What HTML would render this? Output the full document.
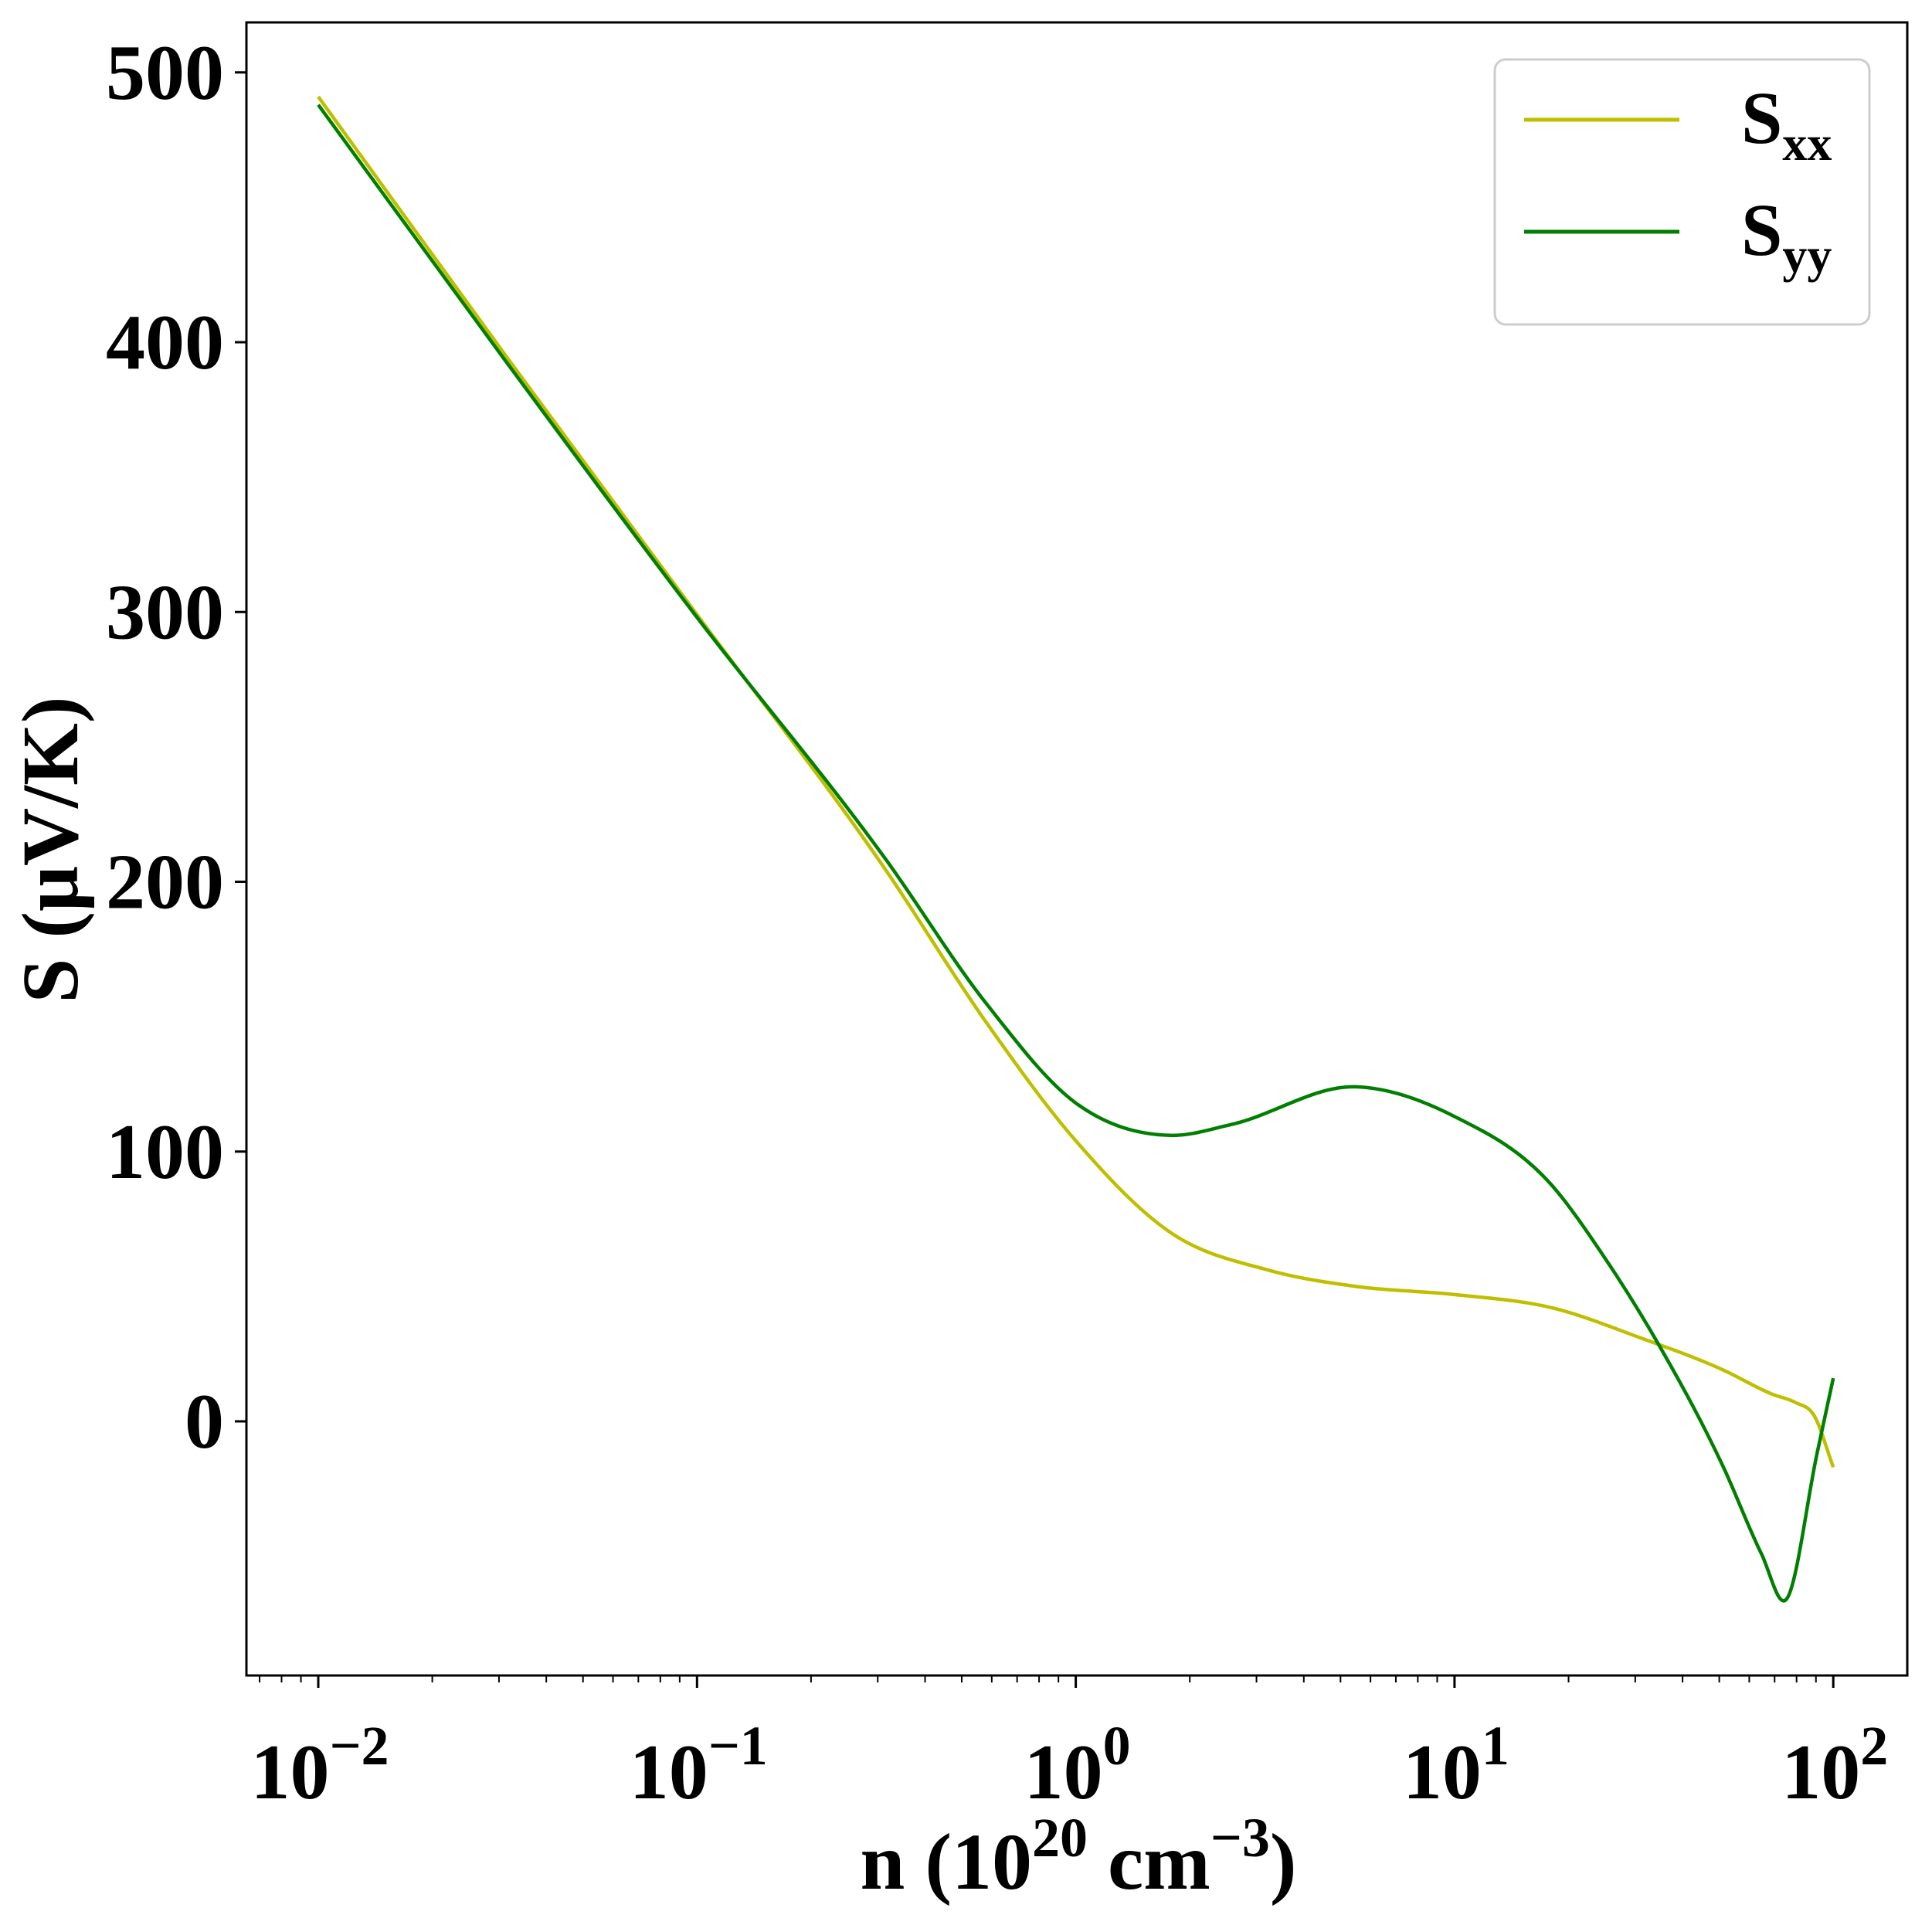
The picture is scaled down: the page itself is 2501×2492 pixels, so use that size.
<!DOCTYPE html>
<html><head><meta charset="utf-8"><style>
body{margin:0;background:#fff;}
svg{display:block;font-family:"Liberation Serif",serif;font-weight:bold;}
</style></head><body>
<svg id="chart" width="2501" height="2492" viewBox="0 0 2501 2492" xmlns="http://www.w3.org/2000/svg">
<rect x="0" y="0" width="2501" height="2492" fill="#fff"/>
<g id="marks"></g>
<g id="axes"></g>
<rect x="319" y="29" width="2150" height="2140" fill="none" stroke="#000" stroke-width="3"/>
<g>
<rect x="1935" y="77" width="485" height="343" rx="14" fill="#fff" stroke="#ccc" stroke-width="3"/>
<line x1="1973" y1="155" x2="2174" y2="155" stroke="#bfbf00" stroke-width="5"/>
<text x="2254" y="185" font-size="96">S<tspan font-size="64" dy="22">xx</tspan></text>
<line x1="1973" y1="300" x2="2174" y2="300" stroke="#007f00" stroke-width="5"/>
<text x="2254" y="330" font-size="96">S<tspan font-size="64" dy="22">yy</tspan></text>
</g>
<text transform="translate(100,1100) rotate(-90)" text-anchor="middle" font-size="104">S (μV/K)</text>
<text x="1396" y="2445" text-anchor="middle" font-size="104">n (10<tspan font-size="72" dy="-42">20</tspan><tspan dy="42"> cm</tspan><tspan font-size="72" dy="-42">−3</tspan><tspan dy="42">)</tspan></text>
</svg>
<script>
const sxxLogs = [-2, -1.5, -1, -0.5, -0.237, 0, 0.25, 0.51, 0.74, 1.0, 1.26, 1.49, 1.71, 1.84, 1.9, 1.95, 2.0];
const sxxValues = [491, 394, 299, 204, 148, 104, 70, 56, 50, 47, 42, 31, 19, 10, 7, 2, -17];
const syyLogs = [-2, -1.5, -1, -0.5, -0.237, 0, 0.25, 0.41, 0.74, 1.0, 1.26, 1.39, 1.545, 1.71, 1.81, 1.876, 1.957, 2.0];
const syyValues = [488, 392, 298, 208, 155, 118, 106, 110, 124, 113, 87, 62, 27, -17, -49, -66, -12, 16];
const yTicks = [0, 100, 200, 300, 400, 500];
const xTickExps = [-2, -1, 0, 1, 2];

const X0 = 412, DEC = 490.3, Y0 = 1840, PER = 3.4925;
function xs(l){ return X0 + (l + 2) * DEC; }
function ys(v){ return Y0 - v * PER; }
const NS = "http://www.w3.org/2000/svg";
function mk(tag, attrs, parent){ const e = document.createElementNS(NS, tag); for (const k in attrs) e.setAttribute(k, attrs[k]); parent.appendChild(e); return e; }

function smoothPath(lx, vy){
  const n = lx.length;
  const p = lx.map((l,i)=>[xs(l), ys(vy[i])]);
  const m = [];
  for (let i = 0; i < n; i++){
    if (i === 0) m.push((p[1][1]-p[0][1])/(p[1][0]-p[0][0]));
    else if (i === n-1) m.push((p[n-1][1]-p[n-2][1])/(p[n-1][0]-p[n-2][0]));
    else {
      const s0 = (p[i][1]-p[i-1][1])/(p[i][0]-p[i-1][0]);
      const s1 = (p[i+1][1]-p[i][1])/(p[i+1][0]-p[i][0]);
      const h0 = p[i][0]-p[i-1][0], h1 = p[i+1][0]-p[i][0];
      m.push((s0*h1 + s1*h0)/(h0+h1));
    }
  }
  let d = "M" + p[0][0] + "," + p[0][1];
  for (let i = 0; i < n - 1; i++){
    const h = (p[i+1][0]-p[i][0])/3;
    d += " C" + (p[i][0]+h) + "," + (p[i][1]+m[i]*h) + " " + (p[i+1][0]-h) + "," + (p[i+1][1]-m[i+1]*h) + " " + p[i+1][0] + "," + p[i+1][1];
  }
  return d;
}
const marks = document.getElementById("marks");
const axes = document.getElementById("axes");
const l1 = mk("path", {d: smoothPath(sxxLogs, sxxValues), fill: "none", stroke: "#bfbf00", "stroke-width": 4.5}, marks);


const l2 = mk("path", {d: smoothPath(syyLogs, syyValues), fill: "none", stroke: "#007f00", "stroke-width": 4.5}, marks);



yTicks.forEach(v => {
  const t = mk("line", {x1: 304, x2: 319, y1: ys(v), y2: ys(v), stroke: "#000", "stroke-width": 3}, axes);
  
  
  const tx = mk("text", {x: 290, y: ys(v) + 34, "text-anchor": "end", "font-size": 102}, axes);
  tx.textContent = v;
  
  
});
xTickExps.forEach(e => {
  const t = mk("line", {x1: xs(e), x2: xs(e), y1: 2169, y2: 2185, stroke: "#000", "stroke-width": 3}, axes);
  
  
  const tx = mk("text", {x: xs(e) + 2, y: 2328, "text-anchor": "middle", "font-size": 102}, axes);
  
  
  tx.textContent = "10";
  const sp = mk("tspan", {"font-size": 72, dy: -44}, tx);
  sp.textContent = (e < 0 ? "−" : "") + Math.abs(e);
});
for (let e = -3; e <= 2; e++){
  for (let m = 2; m <= 9; m++){
    const l = e + Math.log10(m);
    const x = xs(l);
    if (x < 320 || x > 2468) continue;
    const t = mk("line", {x1: x, x2: x, y1: 2169, y2: 2178, stroke: "#000", "stroke-width": 2}, axes);
    
    
  }
}
</script>
</body></html>
